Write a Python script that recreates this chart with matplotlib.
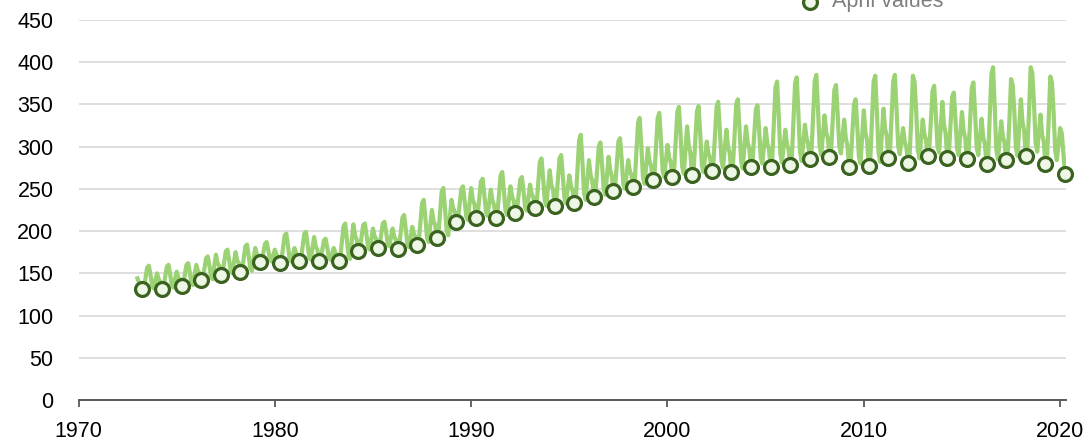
import numpy as np
import matplotlib.pyplot as plt

# Monthly values, Jan 1973 to Apr 2020 (12 values per year)
start_year = 1973

values_1970s = [
    144, 139, 137, 131, 133, 145, 157, 159, 148, 135, 132, 142,
    150, 143, 140, 132, 134, 146, 158, 160, 149, 136, 133, 143,
    152, 145, 143, 135, 137, 149, 160, 162, 151, 139, 136, 149,
    160, 153, 150, 142, 144, 156, 168, 170, 159, 146, 143, 159,
    172, 162, 159, 148, 150, 163, 176, 178, 166, 153, 150, 163,
    175, 165, 162, 151, 154, 168, 182, 184, 171, 156, 153, 167,
    180, 173, 171, 163, 165, 175, 185, 187, 177, 167, 164, 171,
]
values_1980s = [
    178, 172, 169, 162, 165, 180, 195, 197, 183, 167, 164, 172,
    180, 174, 171, 164, 167, 182, 197, 199, 185, 169, 166, 180,
    193, 182, 178, 165, 167, 178, 189, 191, 181, 169, 166, 173,
    180, 174, 172, 165, 169, 187, 206, 209, 191, 172, 167, 189,
    208, 195, 190, 176, 179, 193, 207, 209, 196, 181, 178, 191,
    203, 194, 190, 180, 182, 196, 209, 211, 199, 185, 182, 193,
    203, 193, 190, 179, 182, 199, 216, 219, 203, 185, 181, 193,
    205, 197, 193, 184, 188, 211, 233, 237, 216, 192, 187, 207,
    225, 212, 207, 192, 197, 222, 247, 251, 227, 201, 195, 217,
    237, 227, 223, 211, 214, 232, 250, 253, 236, 217, 213, 233,
]
values_1990s = [
    251, 237, 232, 216, 220, 239, 259, 262, 244, 223, 218, 234,
    249, 236, 231, 216, 220, 243, 266, 270, 248, 224, 219, 236,
    253, 241, 236, 222, 225, 243, 261, 264, 247, 228, 224, 240,
    255, 244, 240, 227, 232, 257, 282, 286, 262, 236, 230, 252,
    272, 255, 249, 230, 235, 260, 286, 290, 266, 239, 233, 250,
    266, 253, 248, 233, 239, 274, 308, 314, 282, 245, 237, 261,
    284, 266, 260, 240, 245, 273, 300, 305, 279, 250, 243, 266,
    288, 272, 265, 247, 252, 279, 306, 310, 285, 256, 250, 267,
    284, 271, 266, 252, 259, 293, 328, 334, 301, 264, 256, 277,
    298, 283, 277, 260, 266, 300, 334, 340, 308, 272, 264, 283,
]
values_2000s = [
    302, 287, 281, 264, 271, 306, 341, 347, 314, 276, 268, 297,
    324, 301, 292, 266, 273, 307, 342, 348, 315, 278, 270, 288,
    306, 292, 287, 271, 278, 312, 347, 353, 320, 283, 275, 298,
    320, 300, 293, 270, 277, 313, 350, 356, 322, 283, 274, 300,
    324, 305, 298, 276, 282, 313, 344, 349, 320, 287, 280, 301,
    322, 304, 297, 276, 284, 327, 370, 377, 337, 291, 281, 300,
    320, 303, 297, 278, 286, 330, 375, 382, 340, 294, 283, 304,
    326, 310, 303, 285, 293, 335, 378, 385, 345, 300, 290, 314,
    337, 317, 310, 288, 295, 331, 367, 373, 339, 301, 292, 312,
    332, 310, 301, 276, 282, 316, 350, 356, 324, 288, 280, 313,
]
values_2010s = [
    343, 317, 307, 277, 286, 331, 377, 384, 341, 293, 282, 314,
    345, 321, 313, 286, 294, 336, 378, 385, 345, 301, 291, 306,
    322, 306, 299, 281, 289, 333, 384, 377, 343, 296, 286, 309,
    332, 315, 308, 289, 296, 331, 366, 372, 339, 301, 293, 324,
    353, 326, 316, 286, 292, 325, 359, 364, 333, 298, 290, 316,
    341, 319, 310, 285, 292, 331, 370, 376, 340, 299, 290, 311,
    333, 311, 303, 279, 288, 337, 386, 394, 348, 296, 285, 307,
    330, 312, 305, 284, 292, 332, 380, 373, 342, 298, 289, 324,
    356, 329, 319, 289, 297, 342, 394, 387, 352, 305, 294, 316,
    338, 314, 306, 279, 287, 331, 383, 376, 341, 295, 284, 303,
]
values_2020 = [322, 316, 292, 268]

x_ticks = [1970, 1980, 1990, 2000, 2010, 2020]
y_ticks = [0, 50, 100, 150, 200, 250, 300, 350, 400, 450]

monthly = np.array(values_1970s + values_1980s + values_1990s
                   + values_2000s + values_2010s + values_2020)
dates = start_year + np.arange(len(monthly)) / 12
april_dates = dates[3::12]
april_values = monthly[3::12]

plt.rcParams["font.family"] = ["Liberation Sans", "DejaVu Sans"]

LINE_GREEN = "#9bd273"
DARK_GREEN = "#3a6320"
MARKER_FILL = "#eef6e6"

fig = plt.figure(figsize=(10.89, 4.43), dpi=100)
ax = fig.add_axes([0.0721, 0.0971, 0.9068, 0.8578])

ax.plot(dates, monthly, color=LINE_GREEN, lw=3.0, solid_joinstyle="round")
ax.plot(april_dates, april_values, "o", ms=10, mfc=MARKER_FILL, mec=DARK_GREEN,
        mew=2.3, clip_on=False, zorder=3)

ax.set_xlim(1970, 2020.3)
ax.set_ylim(0, 450)
ax.set_xticks(x_ticks)
ax.set_yticks(y_ticks)

ax.yaxis.grid(True, color="#d9d9d9", lw=1.2)
ax.set_axisbelow(True)
for side in ["left", "top", "right"]:
    ax.spines[side].set_visible(False)
ax.spines["bottom"].set_color("#595959")
ax.spines["bottom"].set_linewidth(1.4)

ax.tick_params(axis="y", length=0, pad=18, labelsize=15.5)
ax.tick_params(axis="x", length=5, width=1.3, color="#595959", pad=10, labelsize=15.5)

# legend entry, partly cut by the top edge like the original
fig.lines.append(plt.Line2D([810 / 1089], [1 - 2 / 443], transform=fig.transFigure,
                            marker="o", ms=10, mfc=MARKER_FILL, mec=DARK_GREEN, mew=2.3,
                            linestyle="none"))
fig.text(832 / 1089, 1 - 7 / 443, "April values", color="#7f7f7f",
         fontsize=15.5, va="baseline", ha="left")

fig.savefig("out.png", dpi=100)
